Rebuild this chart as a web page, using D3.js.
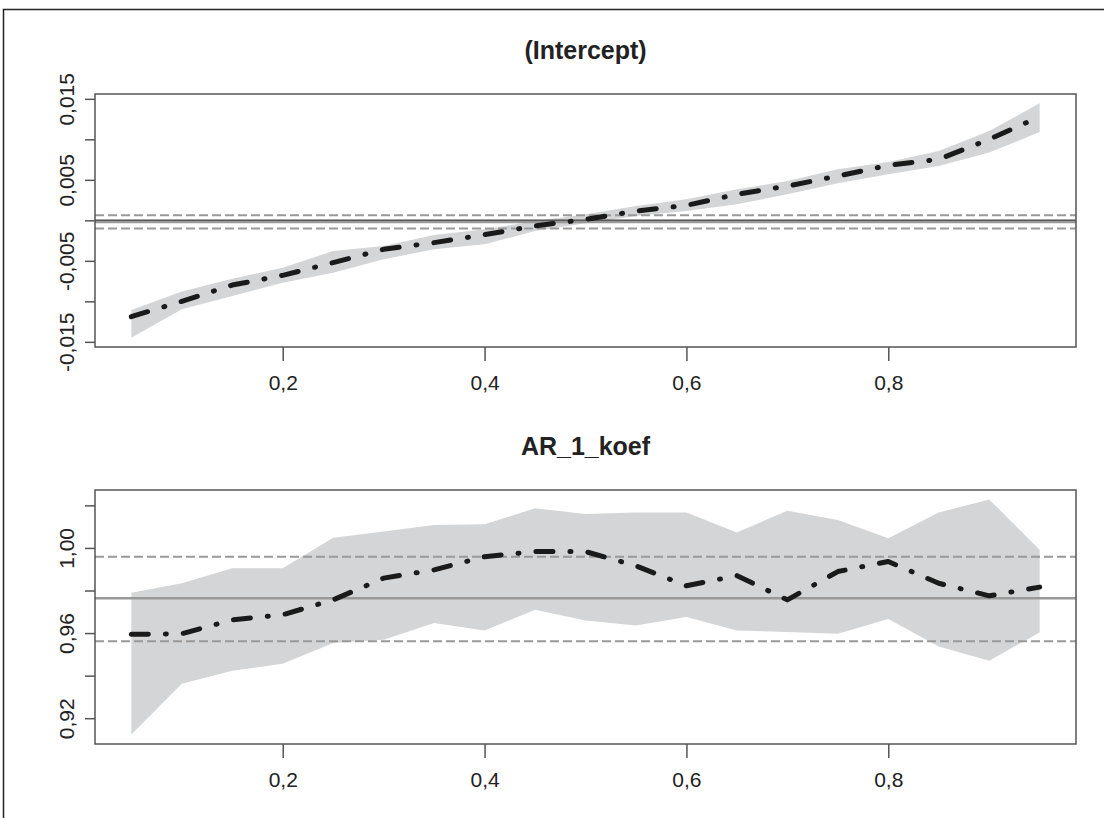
<!DOCTYPE html>
<html>
<head>
<meta charset="utf-8">
<script src="https://cdn.jsdelivr.net/npm/d3@7"></script>
<style>
  body { margin: 0; background: #fff; }
  text { font-family: "Liberation Sans", Arial, sans-serif; fill: #222; }
</style>
</head>
<body>
<div id="chart"></div>
<script>
var svgWidth = 1104;
var svgHeight = 818;

// quantiles
var taus = [0.05, 0.10, 0.15, 0.20, 0.25, 0.30, 0.35, 0.40, 0.45, 0.50,
            0.55, 0.60, 0.65, 0.70, 0.75, 0.80, 0.85, 0.90, 0.95];
var xTicks = [0.2, 0.4, 0.6, 0.8];

// (Intercept)
var interceptCoef = [-0.01189, -0.01000, -0.00799, -0.00679, -0.00522, -0.00358, -0.00275, -0.00177, -0.00070, 0.00012,
                     0.00115, 0.00185, 0.00321, 0.00423, 0.00547, 0.00679, 0.00753, 0.01000, 0.01280];
var interceptLo = [-0.01448, -0.01099, -0.00935, -0.00769, -0.00646, -0.00481, -0.00358, -0.00296, -0.00132, -0.00037,
                   0.00053, 0.00115, 0.00198, 0.00321, 0.00457, 0.00568, 0.00670, 0.00836, 0.01090];
var interceptHi = [-0.01107, -0.00877, -0.00720, -0.00584, -0.00379, -0.00317, -0.00181, -0.00111, -0.00010, 0.00074,
                   0.00177, 0.00259, 0.00383, 0.00485, 0.00630, 0.00720, 0.00856, 0.01102, 0.01444];
var interceptOls = [-0.00021, -0.00101, 0.00062]; // estimate, lower, upper
var interceptTicks = [-0.015, -0.010, -0.005, 0, 0.005, 0.010, 0.015];
var interceptTickLabels = ["-0,015", "", "-0,005", "", "0,005", "", "0,015"];

// AR_1_koef
var arCoef = [0.9594, 0.9597, 0.9662, 0.9686, 0.9756, 0.9858, 0.9897, 0.9959, 0.9983, 0.9983,
              0.9916, 0.9822, 0.9870, 0.9756, 0.9889, 0.9936, 0.9834, 0.9775, 0.9816];
var arLo = [0.9123, 0.9362, 0.9423, 0.9456, 0.9553, 0.9569, 0.9647, 0.9612, 0.9709, 0.9659,
            0.9636, 0.9675, 0.9612, 0.9605, 0.9597, 0.9666, 0.9537, 0.9470, 0.9603];
var arHi = [0.9790, 0.9834, 0.9905, 0.9905, 1.0048, 1.0077, 1.0108, 1.0111, 1.0186, 1.0159,
            1.0166, 1.0167, 1.0073, 1.0175, 1.0131, 1.0045, 1.0166, 1.0228, 0.9991];
var arOls = [0.9764, 0.9561, 0.9958];
var arTicks = [0.92, 0.94, 0.96, 0.98, 1.00, 1.02];
var arTickLabels = ["0,92", "", "0,96", "", "1,00", "", ""];

var svg = d3.select("#chart")
  .append("svg")
  .attr("width", svgWidth)
  .attr("height", svgHeight);

// outer frame (cropped figure border)
svg.append("path")
  .attr("d", "M3.5,818 L3.5,9.5 L1104,9.5")
  .attr("fill", "none")
  .attr("stroke", "#222")
  .attr("stroke-width", 1.5);

var commaFmt = d3.formatLocale({decimal: ",", thousands: ".", grouping: [3], currency: ["", ""], minus: "-"}).format(".1f");

// R style 4% padding
function padded(lo, hi) {
  var d = (hi - lo) * 0.04;
  return [lo - d, hi + d];
}

var xScale = d3.scaleLinear()
  .domain(padded(d3.min(taus), d3.max(taus)))
  .range([95, 1076]);

function drawPanel(opts) {
  var top = opts.top, bottom = opts.bottom;
  var g = svg.append("g");

  var yScale = d3.scaleLinear()
    .domain(padded(d3.min(opts.lo), d3.max(opts.hi)))
    .range([bottom, top]);

  var clipId = "clip" + opts.id;
  g.append("clipPath").attr("id", clipId)
    .append("rect")
    .attr("x", 95).attr("y", top)
    .attr("width", 1076 - 95).attr("height", bottom - top);

  var plot = g.append("g").attr("clip-path", "url(#" + clipId + ")");

  // confidence band
  var area = d3.area()
    .x((d, i) => xScale(taus[i]))
    .y0((d, i) => yScale(opts.lo[i]))
    .y1((d, i) => yScale(opts.hi[i]));
  plot.append("path")
    .datum(taus)
    .attr("d", area)
    .attr("fill", "#d4d5d6");

  // zero line
  if (opts.zero) {
    plot.append("line")
      .attr("x1", 95).attr("x2", 1076)
      .attr("y1", yScale(0)).attr("y2", yScale(0))
      .attr("stroke", "#444")
      .attr("stroke-width", 1.5);
  }

  // OLS estimate and its interval
  plot.append("line")
    .attr("x1", 95).attr("x2", 1076)
    .attr("y1", yScale(opts.ols[0])).attr("y2", yScale(opts.ols[0]))
    .attr("stroke", "#999")
    .attr("stroke-width", 2.5);
  plot.selectAll(".olsci")
    .data(opts.ols.slice(1))
    .enter()
    .append("line")
    .attr("x1", 95).attr("x2", 1076)
    .attr("y1", d => yScale(d)).attr("y2", d => yScale(d))
    .attr("stroke", "#999")
    .attr("stroke-width", 2)
    .attr("stroke-dasharray", "9,4");

  // quantile coefficients
  var line = d3.line()
    .x((d, i) => xScale(taus[i]))
    .y(d => yScale(d));
  plot.append("path")
    .datum(opts.coef)
    .attr("d", line)
    .attr("fill", "none")
    .attr("stroke", "#1a1a1a")
    .attr("stroke-width", 5)
    .attr("stroke-linecap", "round")
    .attr("stroke-linejoin", "round")
    .attr("stroke-dasharray", "17,17,1,17");

  // box
  g.append("rect")
    .attr("x", 95).attr("y", top)
    .attr("width", 1076 - 95).attr("height", bottom - top)
    .attr("fill", "none")
    .attr("stroke", "#555")
    .attr("stroke-width", 1.5);

  // x axis
  var xAxis = d3.axisBottom(xScale)
    .tickValues(xTicks)
    .tickSize(14)
    .tickFormat(commaFmt);
  var xg = g.append("g")
    .attr("transform", `translate(0,${bottom})`)
    .call(xAxis);
  xg.select(".domain").remove();
  xg.selectAll(".tick line").attr("stroke", "#555").attr("stroke-width", 1.5);
  xg.selectAll(".tick text")
    .attr("y", 43).attr("dy", 0)
    .attr("font-size", 21)
    .attr("font-family", "Liberation Sans, Arial, sans-serif")
    .attr("fill", "#222");

  // y axis
  var yAxis = d3.axisLeft(yScale)
    .tickValues(opts.ticks)
    .tickSize(10)
    .tickFormat((d, i) => opts.tickLabels[i]);
  var yg = g.append("g")
    .attr("transform", "translate(95,0)")
    .call(yAxis);
  yg.select(".domain").remove();
  yg.selectAll(".tick line").attr("stroke", "#555").attr("stroke-width", 1.5);
  yg.selectAll(".tick text")
    .attr("transform", "rotate(-90)")
    .attr("x", 0).attr("y", -21).attr("dy", 0)
    .attr("text-anchor", "middle")
    .attr("font-size", 21)
    .attr("font-family", "Liberation Sans, Arial, sans-serif")
    .attr("fill", "#222");

  // title
  g.append("text")
    .attr("x", (95 + 1076) / 2)
    .attr("y", top - 35)
    .attr("text-anchor", "middle")
    .attr("font-size", 25)
    .attr("font-weight", "bold")
    .text(opts.title);
}

drawPanel({
  id: 1, top: 94, bottom: 347, title: "(Intercept)",
  coef: interceptCoef, lo: interceptLo, hi: interceptHi, ols: interceptOls,
  ticks: interceptTicks, tickLabels: interceptTickLabels, zero: true
});

drawPanel({
  id: 2, top: 490, bottom: 744, title: "AR_1_koef",
  coef: arCoef, lo: arLo, hi: arHi, ols: arOls,
  ticks: arTicks, tickLabels: arTickLabels, zero: false
});
</script>
</body>
</html>
